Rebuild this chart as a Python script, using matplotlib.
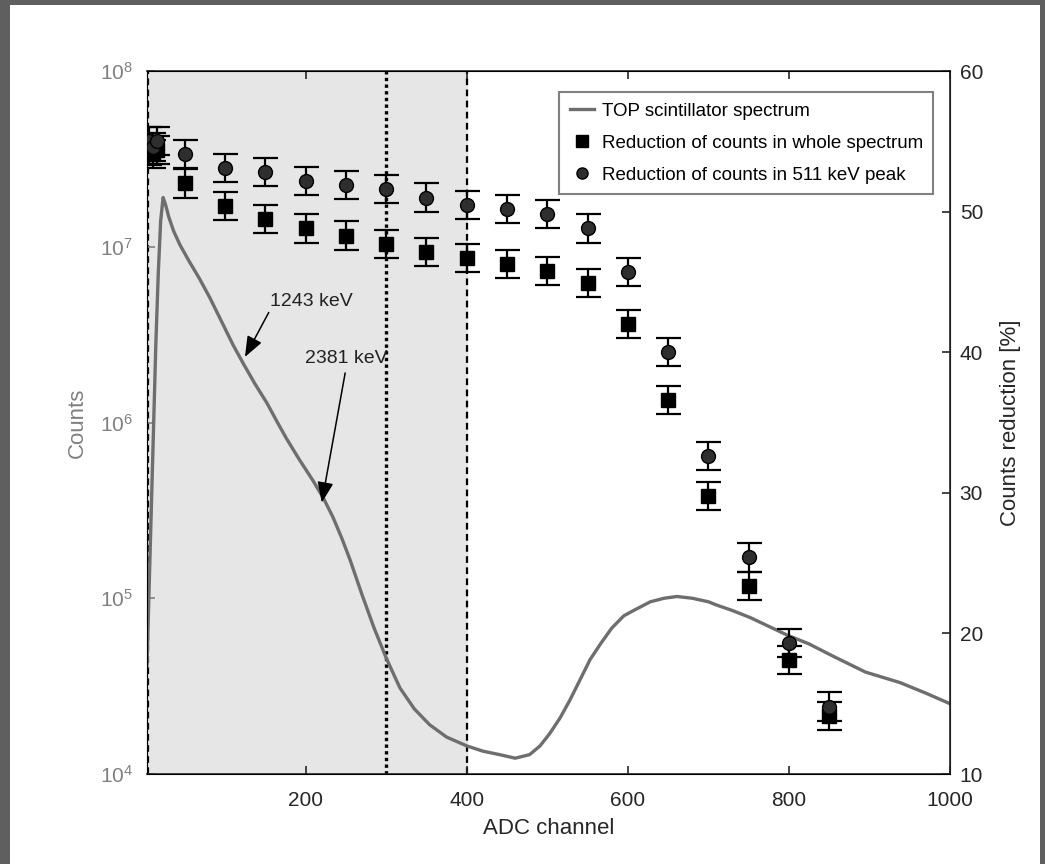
import numpy as np
import matplotlib
matplotlib.use("Agg")
import matplotlib.pyplot as plt
from matplotlib.lines import Line2D
from matplotlib.patches import Rectangle
from matplotlib.ticker import NullLocator, LogLocator

plt.rcParams['font.family'] = ['Liberation Sans', 'DejaVu Sans']
plt.rcParams['mathtext.fontset'] = 'custom'
plt.rcParams['mathtext.rm'] = 'Liberation Sans'
plt.rcParams['mathtext.it'] = 'Liberation Sans'

### TOP scintillator spectrum (log10 of counts)
spec_adc = [3, 5, 8, 11, 14, 17, 20, 23, 26, 30, 36, 44, 55, 68, 81, 95, 110, 122,
            137, 152, 165, 176, 192, 209, 222, 234, 245, 255, 270, 285, 300, 317,
            335, 354, 375, 400, 420, 441, 460, 478, 491, 503, 516, 528, 540, 553,
            566, 580, 595, 607, 628, 645, 661, 680, 700, 711, 730, 752, 775, 798,
            825, 855, 895, 938, 970, 1000]
spec_log10 = [4.62, 4.95, 5.45, 5.95, 6.45, 6.85, 7.15, 7.28, 7.24, 7.17, 7.09, 7.01,
              6.92, 6.82, 6.71, 6.58, 6.44, 6.34, 6.22, 6.11, 6.00, 5.91, 5.79, 5.67,
              5.57, 5.46, 5.34, 5.22, 5.02, 4.83, 4.66, 4.49, 4.37, 4.28, 4.21, 4.16,
              4.13, 4.11, 4.09, 4.11, 4.16, 4.23, 4.32, 4.42, 4.53, 4.65, 4.74, 4.83,
              4.90, 4.93, 4.98, 5.00, 5.01, 5.00, 4.98, 4.96, 4.93, 4.89, 4.84, 4.79,
              4.74, 4.67, 4.58, 4.52, 4.46, 4.40]

### Counts reduction [%]
thr_adc = [5, 10, 15, 50, 100, 150, 200, 250, 300, 350, 400, 450, 500, 550,
           600, 650, 700, 750, 800, 850]
whole_red = [54.3, 54.1, 54.4, 52.0, 50.4, 49.5, 48.8, 48.3, 47.7, 47.1, 46.7, 46.3,
             45.8, 44.9, 42.0, 36.6, 29.8, 23.4, 18.1, 14.1]
whole_err = [1.0] * len(thr_adc)
peak_red = [55.0, 54.6, 55.0, 54.1, 53.1, 52.8, 52.2, 51.9, 51.6, 51.0, 50.5, 50.2,
            49.8, 48.8, 45.7, 40.0, 32.6, 25.4, 19.3, 14.8]
peak_err = [1.0] * len(thr_adc)

W, H = 1045, 864
fig = plt.figure(figsize=(W / 100, H / 100), dpi=100)
fig.patch.set_facecolor('#5f5f5f')
fig.add_artist(Rectangle((10 / W, 0), (1040 - 10) / W, (H - 5) / H,
                         transform=fig.transFigure, facecolor='white',
                         edgecolor='none', zorder=-10))

ax = fig.add_axes([147 / W, 90 / H, (950 - 147) / W, (774 - 71) / H])
ax.set_yscale('log')
ax.set_xlim(3, 1000)
ax.set_ylim(1e4, 1e8)

ax.axvspan(3, 400, color='#e6e6e6', zorder=0)
ax.axvline(4.5, color='k', ls=(0, (3, 2)), lw=1.6, zorder=1)
ax.axvline(300, color='k', ls=(0, (1, 1)), lw=2.4, zorder=1)
ax.axvline(400, color='k', ls=(0, (3, 2)), lw=1.6, zorder=1)

counts = 10 ** np.array(spec_log10)
ax.plot(spec_adc, counts, color='#6e6e6e', lw=2.4, zorder=2)

ax.annotate('1243 keV', xy=(124.6, 2.36e6), xytext=(156, 4.9e6), fontsize=14,
            color='#222222', ha='left', va='center',
            arrowprops=dict(arrowstyle='-|>,head_length=0.9,head_width=0.35',
                            color='k', lw=1.1, relpos=(0, 0), shrinkA=0, shrinkB=0))
ax.annotate('2381 keV', xy=(220, 3.5e5), xytext=(199, 2.3e6), fontsize=14,
            color='#222222', ha='left', va='center',
            arrowprops=dict(arrowstyle='-|>,head_length=0.9,head_width=0.35',
                            color='k', lw=1.1, relpos=(0.5, 0), shrinkA=2, shrinkB=0))

ax.set_xticks([200, 400, 600, 800, 1000])
ax.yaxis.set_major_locator(LogLocator(base=10, numticks=10))
ax.yaxis.set_minor_locator(NullLocator())
ax.tick_params(axis='x', direction='in', top=True, length=6, width=1.2,
               labelsize=15, pad=12, colors='#262626')
ax.tick_params(axis='y', direction='in', length=6, width=1.2, labelsize=15,
               pad=10, colors='#808080', right=False)
ax.set_xlabel('ADC channel', fontsize=16, color='#262626', labelpad=6)
ax.set_ylabel('Counts', fontsize=16, color='#808080', labelpad=9)
for s in ['top', 'bottom']:
    ax.spines[s].set_color('#262626')
    ax.spines[s].set_linewidth(1.2)
ax.spines['left'].set_color('#808080')

ax2 = ax.twinx()
ax2.set_ylim(10, 60)
ax2.set_yticks([10, 20, 30, 40, 50, 60])
ax2.tick_params(axis='y', direction='in', length=6, width=1.2, labelsize=15,
                pad=7, colors='#262626')
ax2.spines['right'].set_color('#262626')
ax2.spines['right'].set_linewidth(1.2)
ax2.set_ylabel('Counts reduction [%]', fontsize=16, color='#262626', labelpad=12)

ax2.errorbar(thr_adc, whole_red, yerr=whole_err, fmt='s', ms=10, mfc='k', mec='k',
             ecolor='k', elinewidth=1.6, capsize=9, capthick=1.6, zorder=3)
ax2.errorbar(thr_adc, peak_red, yerr=peak_err, fmt='o', ms=10, mfc='#2e2e2e', mec='k',
             ecolor='k', elinewidth=1.6, capsize=9, capthick=1.6, zorder=3)

handles = [Line2D([], [], color='#6e6e6e', lw=2.4),
           Line2D([], [], ls='none', marker='s', ms=8, mfc='k', mec='k'),
           Line2D([], [], ls='none', marker='o', ms=8, mfc='#2e2e2e', mec='k')]
labels = ['TOP scintillator spectrum', 'Reduction of counts in whole spectrum',
          'Reduction of counts in 511 keV peak']
leg = ax2.legend(handles, labels, loc='upper right', bbox_to_anchor=(0.979, 0.970),
                 borderaxespad=0, fontsize=13.5, fancybox=False, framealpha=1,
                 edgecolor='#808080', handlelength=1.3, handletextpad=0.4,
                 labelspacing=0.8, borderpad=0.55)
leg.get_frame().set_linewidth(1.5)

fig.savefig('out.png', dpi=100, facecolor=fig.get_facecolor())
